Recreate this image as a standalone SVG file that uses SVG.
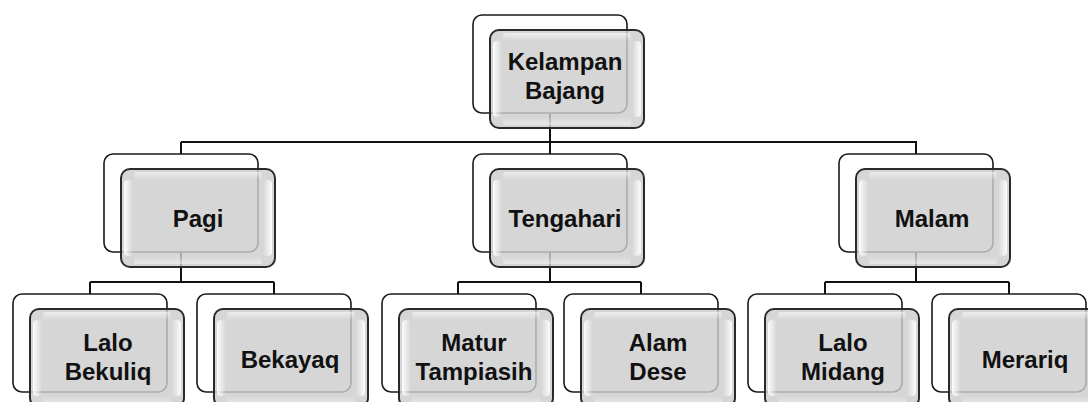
<svg xmlns="http://www.w3.org/2000/svg" xmlns:xlink="http://www.w3.org/1999/xlink" width="1088" height="402" viewBox="0 0 1088 402">
  <style>
    .conn { fill: none; stroke: #111; stroke-width: 2; }
    .back { fill: #ffffff; stroke: #1a1a1a; stroke-width: 1.6; }
    .front { fill: #cdcdcd; fill-opacity: 0.82; stroke: #2a2a2a; stroke-width: 2; }
    .lbl { font-family: "Liberation Sans", Arial, sans-serif; font-weight: bold; font-size: 24px; fill: #111; text-anchor: middle; }
  </style>
  <defs>
    <linearGradient id="hlL" x1="0" y1="0" x2="1" y2="0">
      <stop offset="0" stop-color="#fff" stop-opacity="0.95"/>
      <stop offset="1" stop-color="#fff" stop-opacity="0"/>
    </linearGradient>
    <linearGradient id="hlR" x1="1" y1="0" x2="0" y2="0">
      <stop offset="0" stop-color="#fff" stop-opacity="0.95"/>
      <stop offset="1" stop-color="#fff" stop-opacity="0"/>
    </linearGradient>
    <linearGradient id="hlT" x1="0" y1="0" x2="0" y2="1">
      <stop offset="0" stop-color="#fff" stop-opacity="0.55"/>
      <stop offset="1" stop-color="#fff" stop-opacity="0"/>
    </linearGradient>
    <linearGradient id="hlB" x1="0" y1="1" x2="0" y2="0">
      <stop offset="0" stop-color="#fff" stop-opacity="0.45"/>
      <stop offset="1" stop-color="#fff" stop-opacity="0"/>
    </linearGradient>
    <g id="nodeShape">
      <rect class="back" x="0" y="0" width="154" height="98" rx="9"/>
      <rect class="front" x="17" y="15" width="154" height="98" rx="9"/>
      <rect x="20" y="26" width="9" height="76" rx="4" fill="url(#hlL)"/>
      <rect x="159" y="26" width="9" height="76" rx="4" fill="url(#hlR)"/>
      <rect x="30" y="18" width="128" height="8" rx="3" fill="url(#hlT)"/>
      <rect x="30" y="102" width="128" height="8" rx="3" fill="url(#hlB)"/>
    </g>
  </defs>
  <rect width="1088" height="402" fill="#ffffff"/>

  <g id="connectors">
    <path class="conn" d="M550,113 V142 M181,142 H917 M181,142 V154 M550,142 V154 M916,142 V154"/>
    <path class="conn" d="M181,252 V282 M90,282 H274 M90,282 V294 M274,282 V294"/>
    <path class="conn" d="M550,252 V282 M458,282 H641 M458,282 V294 M641,282 V294"/>
    <path class="conn" d="M916,252 V282 M825,282 H1009 M825,282 V294 M1009,282 V294"/>
  </g>

  <g id="node-kelampan-bajang">
    <use xlink:href="#nodeShape" x="473" y="15"/>
    <text class="lbl" x="565" y="70">Kelampan</text>
    <text class="lbl" x="565" y="99">Bajang</text>
  </g>
  <g id="node-pagi">
    <use xlink:href="#nodeShape" x="104" y="154"/>
    <text class="lbl" x="198" y="227">Pagi</text>
  </g>
  <g id="node-tengahari">
    <use xlink:href="#nodeShape" x="473" y="154"/>
    <text class="lbl" x="565" y="227">Tengahari</text>
  </g>
  <g id="node-malam">
    <use xlink:href="#nodeShape" x="839" y="154"/>
    <text class="lbl" x="932" y="227">Malam</text>
  </g>
  <g id="node-lalo-bekuliq">
    <use xlink:href="#nodeShape" x="13" y="294"/>
    <text class="lbl" x="108" y="351">Lalo</text>
    <text class="lbl" x="108" y="380">Bekuliq</text>
  </g>
  <g id="node-bekayaq">
    <use xlink:href="#nodeShape" x="197" y="294"/>
    <text class="lbl" x="290" y="368">Bekayaq</text>
  </g>
  <g id="node-matur-tampiasih">
    <use xlink:href="#nodeShape" x="382" y="294"/>
    <text class="lbl" x="474" y="351">Matur</text>
    <text class="lbl" x="474" y="380">Tampiasih</text>
  </g>
  <g id="node-alam-dese">
    <use xlink:href="#nodeShape" x="564" y="294"/>
    <text class="lbl" x="658" y="351">Alam</text>
    <text class="lbl" x="658" y="380">Dese</text>
  </g>
  <g id="node-lalo-midang">
    <use xlink:href="#nodeShape" x="748" y="294"/>
    <text class="lbl" x="843" y="351">Lalo</text>
    <text class="lbl" x="843" y="380">Midang</text>
  </g>
  <g id="node-merariq">
    <use xlink:href="#nodeShape" x="932" y="294"/>
    <text class="lbl" x="1025" y="368">Merariq</text>
  </g>
</svg>
